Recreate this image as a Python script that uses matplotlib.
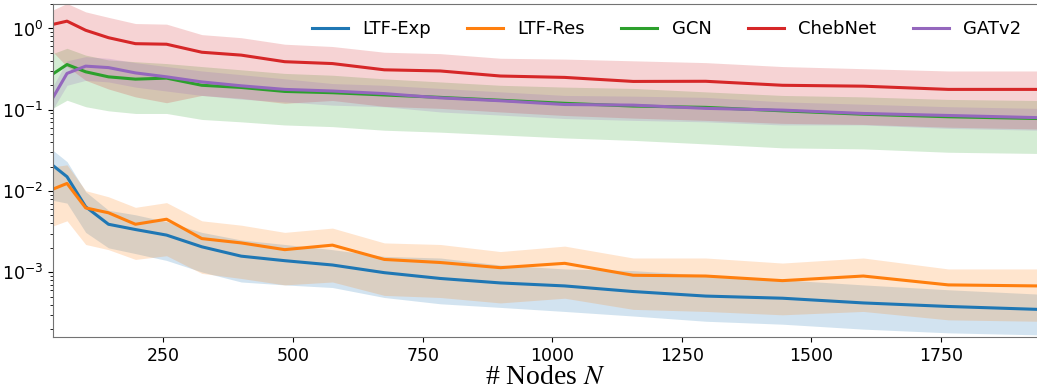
import numpy as np
import matplotlib
matplotlib.use("Agg")
import matplotlib.pyplot as plt

plt.rcParams["mathtext.fontset"] = "stix"

# number of nodes
N = [36, 64, 100, 144, 196, 256, 324, 400, 484, 576, 676, 784, 900,
     1024, 1156, 1296, 1444, 1600, 1764, 1936]

# LTF-Exp
exp_mean = [0.0208, 0.0150, 0.0064, 0.0039, 0.00336, 0.00287, 0.00206, 0.00158, 0.00139, 0.00123,
            0.00099, 0.00084, 0.00074, 0.00068, 0.00058, 0.00051, 0.00048, 0.00042, 0.00038, 0.00035]
exp_hi = [0.032, 0.023, 0.0098, 0.0058, 0.0051, 0.0042, 0.0031, 0.0025, 0.0022, 0.0019,
          0.00157, 0.0015, 0.00123, 0.0011, 0.00105, 0.00092, 0.00081, 0.0007, 0.00061, 0.00054]
exp_lo = [0.0077, 0.0071, 0.0031, 0.0020, 0.0017, 0.0014, 0.00101, 0.00076, 0.0007, 0.00065,
          0.00049, 0.00041, 0.00037, 0.00033, 0.00029, 0.00025, 0.00023, 0.00020, 0.00018, 0.00017]

# LTF-Res
res_mean = [0.0105, 0.0124, 0.0062, 0.0054, 0.0039, 0.0045, 0.0026, 0.0023, 0.0019, 0.00216,
            0.00144, 0.00132, 0.00114, 0.00129, 0.00092, 0.0009, 0.00079, 0.0009, 0.0007, 0.00068]
res_hi = [0.0198, 0.021, 0.0101, 0.0085, 0.0063, 0.0072, 0.0043, 0.0038, 0.0031, 0.0035,
          0.0023, 0.0022, 0.0018, 0.0021, 0.0015, 0.0015, 0.0013, 0.0015, 0.0011, 0.0011]
res_lo = [0.0037, 0.0043, 0.0022, 0.0019, 0.00144, 0.0016, 0.00097, 0.00084, 0.0007, 0.00076,
          0.00052, 0.00049, 0.00042, 0.00048, 0.00035, 0.00033, 0.0003, 0.00033, 0.00026, 0.00025]

# GCN
gcn_mean = [0.274, 0.36, 0.293, 0.254, 0.238, 0.245, 0.20, 0.188, 0.168, 0.162,
            0.152, 0.142, 0.131, 0.12, 0.111, 0.107, 0.097, 0.088, 0.082, 0.078]
gcn_hi = [0.49, 0.57, 0.47, 0.41, 0.39, 0.37, 0.34, 0.31, 0.28, 0.266,
          0.24, 0.22, 0.20, 0.19, 0.183, 0.166, 0.15, 0.144, 0.134, 0.13]
gcn_lo = [0.104, 0.131, 0.109, 0.097, 0.090, 0.09, 0.076, 0.071, 0.065, 0.062,
          0.056, 0.053, 0.049, 0.045, 0.042, 0.038, 0.034, 0.033, 0.030, 0.029]

# ChebNet
cheb_mean = [1.12, 1.23, 0.95, 0.77, 0.65, 0.64, 0.51, 0.47, 0.39, 0.37,
             0.31, 0.30, 0.26, 0.25, 0.223, 0.224, 0.20, 0.195, 0.178, 0.178]
cheb_hi = [1.68, 2.03, 1.6, 1.37, 1.15, 1.13, 0.84, 0.77, 0.64, 0.6,
           0.51, 0.49, 0.43, 0.42, 0.40, 0.38, 0.34, 0.32, 0.30, 0.30]
cheb_lo = [0.52, 0.34, 0.23, 0.18, 0.144, 0.122, 0.15, 0.138, 0.12, 0.13,
           0.11, 0.104, 0.094, 0.085, 0.079, 0.074, 0.068, 0.066, 0.061, 0.058]

# GATv2
gat_mean = [0.138, 0.28, 0.344, 0.33, 0.284, 0.254, 0.22, 0.197, 0.178, 0.17,
            0.158, 0.14, 0.129, 0.116, 0.114, 0.104, 0.099, 0.09, 0.085, 0.080]
gat_hi = [0.19, 0.40, 0.45, 0.43, 0.38, 0.34, 0.30, 0.27, 0.24, 0.21,
          0.20, 0.183, 0.166, 0.15, 0.147, 0.142, 0.125, 0.117, 0.109, 0.104]
gat_lo = [0.10, 0.20, 0.23, 0.22, 0.19, 0.17, 0.15, 0.135, 0.125, 0.114,
          0.109, 0.094, 0.086, 0.078, 0.074, 0.071, 0.065, 0.065, 0.059, 0.056]

series = [
    ("LTF-Exp", exp_mean, exp_lo, exp_hi, "C0"),
    ("LTF-Res", res_mean, res_lo, res_hi, "C1"),
    ("GCN", gcn_mean, gcn_lo, gcn_hi, "C2"),
    ("ChebNet", cheb_mean, cheb_lo, cheb_hi, "C3"),
    ("GATv2", gat_mean, gat_lo, gat_hi, "C4"),
]

fig = plt.figure(figsize=(10.37, 3.9), dpi=100)
ax = fig.add_axes([52.5 / 1037, 53 / 390, 985 / 1037, 333 / 390])

for name, m, lo, hi, c in series:
    ax.plot(N, m, color=c, lw=2.2, label=name)
    ax.fill_between(N, lo, hi, color=c, alpha=0.2, lw=0)

ax.set_yscale("log")
ax.set_xlim(36, 1936)
ax.set_ylim(1.6e-4, 2.0)
ax.set_xticks([250, 500, 750, 1000, 1250, 1500, 1750])
ax.tick_params(labelsize=12.5)
ax.spines["right"].set_visible(False)
for s in ["left", "top", "bottom"]:
    ax.spines[s].set_color("0.45")

ax.set_xlabel(r"# Nodes $N$", fontsize=20, family="Liberation Serif", labelpad=0)
ax.legend(loc="upper right", ncol=5, frameon=False, fontsize=13,
          bbox_to_anchor=(1.0, 1.0))

fig.savefig("out.png", dpi=100)
